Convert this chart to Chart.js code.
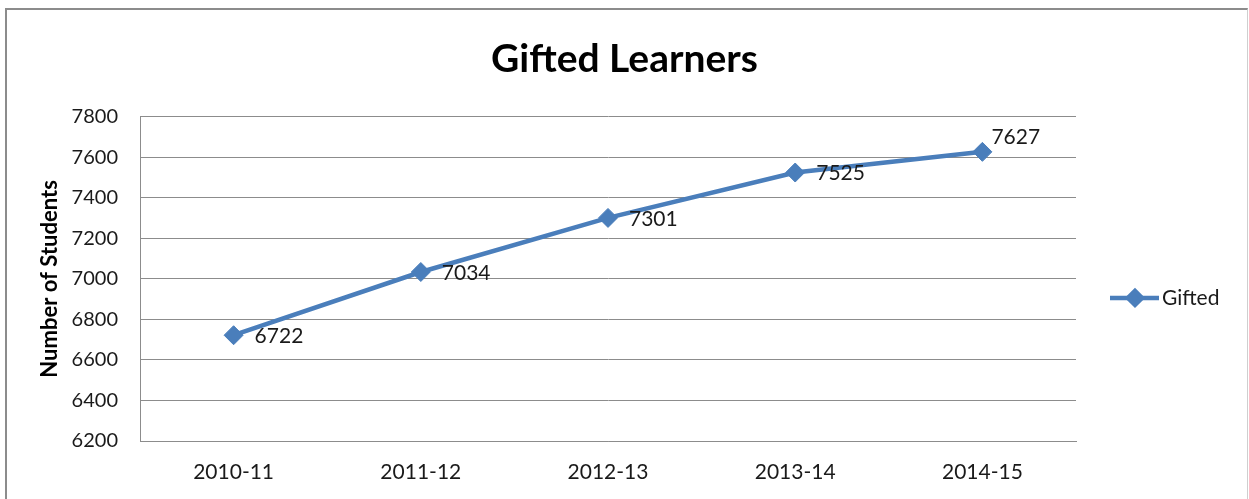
<!DOCTYPE html>
<html><head><meta charset="utf-8">
<script src="https://cdn.jsdelivr.net/npm/chart.js@4/dist/chart.umd.min.js"></script>
<style>
html,body{margin:0;padding:0;background:#fff;}
#wrap{position:relative;width:1249px;height:499px;overflow:hidden;background:#fff;}
#frame{position:absolute;left:5px;top:8px;width:1240px;height:600px;border-left:2px solid #8c8c8c;border-top:2px solid #8c8c8c;border-right:1px solid #cfcfcf;pointer-events:none;}
canvas{position:absolute;left:0;top:0;}
</style></head><body>
<div id="wrap"><canvas id="c" width="1249" height="499"></canvas><div id="frame"></div></div>
<script>
const chartTitle = 'Gifted Learners';
const yAxisTitle = 'Number of Students';
const categories = ['2010-11', '2011-12', '2012-13', '2013-14', '2014-15'];
const seriesName = 'Gifted';
const giftedValues = [6722, 7034, 7301, 7525, 7627];
const yMin = 6200;
const yMax = 7800;
const yStep = 200;

const LINE_COLOR = '#4a7ebb';
const TEXT_COLOR = '#1a1a1a';
const GRID_COLOR = '#8c8c8c';
Chart.defaults.font.family = 'Lato, "Open Sans", sans-serif';
Chart.defaults.color = TEXT_COLOR;

const dataLabelPlugin = {
  id: 'dataLabels',
  afterDatasetsDraw(chart) {
    const ctx = chart.ctx;
    chart.data.datasets.forEach((ds, di) => {
      const meta = chart.getDatasetMeta(di);
      ctx.save();
      ctx.font = '21px Lato, "Open Sans", sans-serif';
      ctx.fillStyle = TEXT_COLOR;
      ctx.textAlign = 'left';
      ctx.textBaseline = 'middle';
      meta.data.forEach((el, i) => {
        const last = i === meta.data.length - 1;
        const dx = last ? 9 : 21;
        const dy = last ? -15 : 1;
        ctx.fillText(String(ds.data[i]), el.x + dx, el.y + dy);
      });
      ctx.restore();
    });
  }
};

const legendPlugin = {
  id: 'sideLegend',
  afterDraw(chart) {
    const ctx = chart.ctx;
    const area = chart.chartArea;
    const ds = chart.data.datasets[0];
    const x0 = area.right + 34;
    const y = (area.top + area.bottom) / 2 + 19;
    ctx.save();
    ctx.strokeStyle = ds.borderColor;
    ctx.lineWidth = 4.5;
    ctx.beginPath();
    ctx.moveTo(x0, y);
    ctx.lineTo(x0 + 49, y);
    ctx.stroke();
    ctx.fillStyle = ds.pointBackgroundColor;
    ctx.strokeStyle = ds.pointBorderColor;
    Chart.helpers.drawPoint(ctx, {pointStyle: 'rectRot', radius: 7, borderWidth: 1, rotation: 0}, x0 + 25, y);
    ctx.fillStyle = TEXT_COLOR;
    ctx.font = '21px Lato, "Open Sans", sans-serif';
    ctx.textAlign = 'left';
    ctx.textBaseline = 'middle';
    ctx.fillText(ds.label, x0 + 52, y);
    ctx.restore();
  }
};

new Chart(document.getElementById('c'), {
  type: 'line',
  data: {
    labels: categories,
    datasets: [{
      label: seriesName,
      data: giftedValues,
      borderColor: LINE_COLOR,
      backgroundColor: LINE_COLOR,
      pointBackgroundColor: LINE_COLOR,
      pointBorderColor: LINE_COLOR,
      borderWidth: 4.5,
      pointStyle: 'rectRot',
      pointRadius: 9.5,
      pointHoverRadius: 9.5,
      pointBorderWidth: 1,
      tension: 0,
      fill: false
    }]
  },
  options: {
    responsive: false,
    animation: false,
    layout: {padding: {left: 0, right: 0, top: 0, bottom: 0}},
    plugins: {
      legend: {display: false},
      tooltip: {enabled: false},
      title: {
        display: true,
        text: chartTitle,
        color: '#000',
        font: {size: 39, weight: 'bold'},
        padding: {top: 36, bottom: 34}
      }
    },
    scales: {
      x: {
        offset: true,
        grid: {display: false, drawTicks: false},
        border: {display: true, color: GRID_COLOR, width: 1},
        ticks: {font: {size: 21}, padding: 19, color: TEXT_COLOR, maxRotation: 0},
        afterFit(scale) { scale.height = 58; }
      },
      y: {
        min: yMin,
        max: yMax,
        grid: {color: GRID_COLOR, lineWidth: 1, drawTicks: false},
        border: {display: true, color: GRID_COLOR, width: 1},
        ticks: {stepSize: yStep, font: {size: 20}, padding: 22, color: TEXT_COLOR,
          callback: (v) => String(v)},
        title: {
          display: true,
          text: yAxisTitle,
          color: '#000',
          font: {size: 22, weight: 'bold'},
          padding: {top: 37, bottom: 0}
        },
        afterFit(scale) { scale.width = 140; }
      },
      legendSpace: {
        type: 'linear',
        position: 'right',
        min: yMin,
        max: yMax,
        grid: {display: false, drawTicks: false},
        border: {display: false},
        ticks: {display: false},
        afterFit(scale) { scale.width = 173; }
      }
    }
  },
  plugins: [dataLabelPlugin, legendPlugin]
});
</script>
</body></html>
